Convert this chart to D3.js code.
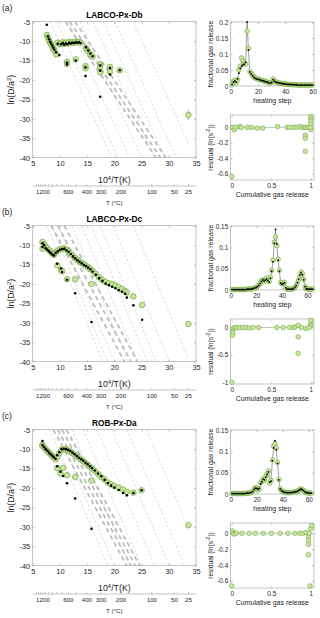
<!DOCTYPE html>
<html>
<head>
<meta charset="utf-8">
<script src="https://cdn.jsdelivr.net/npm/d3@7"></script>
<style>
  body { margin: 0; background: #fff; }
  svg { display: block; font-family: "Liberation Sans", Arial, sans-serif; }
</style>
</head>
<body>
<svg id="fig" width="320" height="618"></svg>
<script>
// ---------------------------------------------------------
// panel (a)  LABCO-Px-Db
var arrXa = [7.6, 7.8, 8.0, 8.2, 8.4, 8.6, 8.8, 9.0, 9.3, 9.6, 9.9, 10.2, 10.5, 10.8, 11.1, 11.4, 11.7, 12.0, 12.3, 12.6, 12.9, 13.2, 13.5, 13.8, 14.8, 15.2, 15.6, 16.0, 11.3, 11.3, 12.9, 14.7, 14.7, 17.4, 17.4, 17.4, 19.2, 19.2, 21.0, 33.6];
var arrMeasA = [-8.4, -9.1, -9.8, -10.4, -10.9, -11.4, -12.0, -12.4, -13.4, -10.4, -10.8, -10.6, -10.3, -10.7, -10.4, -10.6, -10.2, -10.5, -10.3, -10.4, -10.1, -10.3, -10.2, -10.4, -11.8, -12.6, -13.4, -14.0, -15.3, -15.9, -14.7, -16.4, -17.0, -15.9, -16.6, -18.0, -16.7, -17.9, -17.5, -29.0];
var arrModelA = [-5.8, -8.8, -9.5, -10.2, -10.7, -11.2, -11.7, -12.2, -12.9, -10.7, -13.6, -10.8, -10.5, -10.9, -10.6, -10.8, -10.4, -10.6, -10.4, -10.5, -10.3, -10.4, -10.3, -10.5, -11.6, -12.4, -13.2, -13.9, -16.0, -15.6, -15.0, -19.0, -16.8, -16.3, -24.3, -17.6, -16.9, -18.6, -17.5, null];
var arrErrA = [[9.2, -13.4, 0.8], [33.6, -29.0, 1.3]]; // x, y, half length
var thinA = [8.2, 9.4, 11.5, 13.7, 16.1, 18.0, 20.1, 23.5];
var thickA = [11.0, 11.8, 12.8];
var slopeA = [-3.1, -2.1]; // thin, thick
var stepMeasA = [0.003, 0.015, 0.018, 0.010, 0.020, 0.050, 0.062, 0.088, 0.078, 0.072, 0.068, 0.172, 0.117, 0.045, 0.040,
  0.034, 0.028, 0.025, 0.023, 0.022, 0.020, 0.019, 0.018, 0.016, 0.015, 0.013, 0.012, 0.010, 0.009, 0.012,
  0.022, 0.016, 0.013, 0.011, 0.010, 0.009, 0.008, 0.008, 0.007, 0.006, 0.006, 0.005, 0.005, 0.005, 0.004,
  0.004, 0.004, 0.004, 0.003, 0.003, 0.003, 0.003, 0.003, 0.003, 0.003, 0.003, 0.003, 0.003, 0.003, 0.003];
var stepModelA = [0.004, 0.012, 0.016, 0.012, 0.022, 0.040, 0.055, 0.062, 0.066, 0.068, 0.074, 0.200, 0.113, 0.044, 0.038,
  0.032, 0.027, 0.024, 0.022, 0.021, 0.020, 0.018, 0.017, 0.016, 0.014, 0.013, 0.012, 0.010, 0.009, 0.011,
  0.020, 0.015, 0.012, 0.011, 0.010, 0.009, 0.008, 0.007, 0.007, 0.006, 0.006, 0.005, 0.005, 0.005, 0.004,
  0.004, 0.004, 0.004, 0.003, 0.003, 0.003, 0.003, 0.003, 0.003, 0.003, 0.003, 0.003, 0.003, 0.003, 0.003];
var cumA = [0.00, 0.01, 0.03, 0.05, 0.10, 0.12, 0.20, 0.25, 0.32, 0.39, 0.58, 0.70, 0.73, 0.78, 0.82, 0.86, 0.89, 0.92, 0.94, 0.97, 0.93, 0.93, 0.93, 1.00, 1.00, 1.00, 1.00, 1.00, 0.99];
var residA = [-0.635, 0.00, -0.03, 0.00, 0.01, 0.00, 0.00, 0.00, -0.01, -0.01, 0.01, 0.00, 0.00, 0.00, 0.00, 0.01, 0.00, 0.00, 0.00, 0.00, -0.10, -0.14, -0.31, 0.14, 0.11, 0.08, 0.04, -0.03, 0.00];

// ---------------------------------------------------------
// panel (b)  LABCO-Px-Dc
var arrXb = [6.8, 6.8, 7.1, 7.4, 7.7, 8.0, 8.3, 8.6, 8.9, 9.2, 9.6, 10.0, 10.4, 10.8, 11.2, 11.6, 12.0, 12.4, 12.8, 13.2, 13.6, 14.0, 14.4, 14.8, 15.2, 15.6, 16.0, 16.6, 17.2, 17.8, 18.4, 19.0, 19.6, 20.2, 20.8, 21.4, 22.0, 22.3, 9.5, 10.2, 10.4, 11.3, 12.8, 15.8, 23.5, 25.1, 33.6];
var arrMeasB = [-9.2, -10.9, -9.8, -10.4, -10.9, -11.3, -11.7, -12.2, -12.5, -11.9, -11.4, -11.1, -10.9, -10.8, -11.2, -11.6, -12.2, -12.8, -13.3, -13.8, -14.2, -14.6, -15.0, -15.3, -15.7, -16.1, -16.6, -17.4, -18.3, -19.0, -19.5, -19.8, -20.1, -20.4, -20.8, -21.3, -21.8, -22.2, -15.2, -16.4, -16.8, -18.8, -18.8, -20.0, -23.2, -25.4, -30.3];
var arrModelB = [-9.5, -10.5, -10.0, -10.8, -11.2, -11.6, -12.0, -12.4, -12.7, -12.0, -11.6, -11.2, -11.0, -10.9, -11.3, -11.7, -12.3, -12.9, -13.4, -13.9, -14.3, -14.7, -15.1, -15.4, -15.8, -16.2, -16.8, -17.6, -18.5, -19.2, -19.9, -20.3, -20.7, -21.1, -21.6, -22.0, -22.5, -23.5, -14.8, -16.0, -16.9, -18.9, -22.4, -29.8, -25.5, -29.2, null];
var arrErrB = [];
var thinB = [7.6, 8.5, 9.7, 12.2, 14.0, 15.8, 17.4, 19.8, 23.5];
var thickB = [8.4, 9.6, 10.8];
var slopeB = [-3.4, -2.6];
var stepMeasB = [0.001, 0.001, 0.001, 0.001, 0.001, 0.001, 0.001, 0.001, 0.001, 0.001, 0.001, 0.001, 0.002, 0.002, 0.002, 0.002, 0.003, 0.004, 0.005, 0.006,
  0.008, 0.012, 0.015, 0.022, 0.024, 0.020, 0.024, 0.028, 0.022, 0.020,
  0.030, 0.046, 0.070, 0.112, 0.125, 0.104, 0.072, 0.046, 0.018, 0.014,
  0.016, 0.018, 0.005, 0.002, 0.002, 0.002, 0.002, 0.002, 0.003, 0.006,
  0.010, 0.016, 0.024, 0.034, 0.042, 0.038, 0.025, 0.008, 0.003, 0.002,
  0.002, 0.002, 0.002, 0.002];
var stepModelB = [0.001, 0.001, 0.001, 0.001, 0.001, 0.001, 0.001, 0.001, 0.001, 0.001, 0.001, 0.001, 0.002, 0.002, 0.002, 0.002, 0.003, 0.004, 0.005, 0.006,
  0.008, 0.011, 0.015, 0.020, 0.024, 0.021, 0.023, 0.026, 0.022, 0.019,
  0.028, 0.044, 0.066, 0.110, 0.142, 0.108, 0.070, 0.044, 0.016, 0.013,
  0.015, 0.017, 0.005, 0.002, 0.002, 0.002, 0.002, 0.002, 0.003, 0.006,
  0.010, 0.017, 0.025, 0.035, 0.040, 0.036, 0.024, 0.008, 0.003, 0.002,
  0.002, 0.002, 0.002, 0.002];
var cumB = [0.00, 0.01, 0.01, 0.02, 0.04, 0.06, 0.10, 0.14, 0.18, 0.22, 0.27, 0.34, 0.57, 0.65, 0.73, 0.78, 0.80, 0.84, 0.84, 0.84, 0.88, 0.94, 1.00, 1.00, 1.00, 0.98];
var residB = [-1.00, -0.14, -0.08, -0.02, 0.00, 0.00, 0.00, 0.00, 0.00, -0.01, 0.00, 0.00, 0.00, 0.00, 0.00, 0.00, 0.01, 0.04, -0.17, -0.47, 0.00, -0.02, 0.07, 0.13, 0.03, 0.00];

// ---------------------------------------------------------
// panel (c)  ROB-Px-Da
var arrXc = [6.8, 6.8, 7.1, 7.4, 7.7, 8.0, 8.3, 8.6, 8.9, 9.2, 9.5, 9.9, 10.3, 10.7, 11.1, 11.5, 11.9, 12.3, 12.7, 13.1, 13.5, 13.9, 14.3, 14.7, 15.1, 15.5, 15.9, 16.4, 17.0, 17.6, 18.2, 18.8, 19.4, 20.0, 20.8, 21.6, 22.3, 23.5, 25.0, 9.5, 10.6, 10.1, 11.3, 12.8, 15.8, 33.6];
var arrMeasC = [-8.9, -9.2, -9.6, -10.0, -10.5, -10.9, -11.3, -11.8, -12.2, -12.6, -12.0, -11.0, -10.2, -10.0, -10.1, -10.3, -10.6, -11.0, -11.4, -11.9, -12.3, -12.7, -13.1, -13.6, -14.0, -14.5, -15.0, -15.6, -16.4, -17.2, -17.8, -18.6, -19.1, -19.5, -19.9, -20.4, -21.0, -21.2, -20.6, -14.9, -14.8, -16.3, -16.7, -17.2, -18.1, -29.6];
var arrModelC = [-7.9, -9.0, -9.5, -10.0, -10.4, -10.9, -11.3, -11.7, -12.1, -12.5, -11.6, -10.8, -10.0, -9.9, -10.0, -10.2, -10.5, -10.9, -11.3, -11.8, -12.2, -12.6, -13.0, -13.5, -13.9, -14.4, -14.9, -15.5, -16.3, -17.0, -17.9, -18.7, -19.4, -19.9, -20.5, -21.3, -21.9, -21.3, -20.6, -14.4, -16.9, -15.8, -18.8, -22.7, -30.5, null];
var arrErrC = [];
var thinC = [8.2, 9.4, 12.2, 14.3, 16.8, 19.5, 22.3, 25.9];
var thickC = [8.8, 9.6, 10.4, 11.2];
var slopeC = [-3.3, -2.6];
var stepMeasC = [0.001, 0.001, 0.001, 0.001, 0.001, 0.001, 0.001, 0.001, 0.001, 0.001, 0.001, 0.002, 0.002, 0.002, 0.003, 0.004, 0.006,
  0.012, 0.015, 0.014, 0.010, 0.012, 0.026, 0.030, 0.036, 0.032, 0.042, 0.048, 0.054, 0.026,
  0.032, 0.080, 0.112, 0.118, 0.108, 0.074, 0.034, 0.012, 0.008, 0.006,
  0.004, 0.004, 0.003, 0.003, 0.003, 0.003, 0.004, 0.004, 0.005, 0.005,
  0.006, 0.008, 0.010, 0.012, 0.010, 0.008, 0.005, 0.003, 0.003, 0.002,
  0.002, 0.002];
var stepModelC = [0.001, 0.001, 0.001, 0.001, 0.001, 0.001, 0.001, 0.001, 0.001, 0.001, 0.001, 0.002, 0.002, 0.002, 0.003, 0.004, 0.006,
  0.011, 0.014, 0.013, 0.011, 0.013, 0.024, 0.029, 0.035, 0.033, 0.040, 0.046, 0.052, 0.028,
  0.030, 0.078, 0.108, 0.125, 0.104, 0.072, 0.033, 0.012, 0.008, 0.006,
  0.004, 0.004, 0.003, 0.003, 0.003, 0.003, 0.004, 0.004, 0.005, 0.005,
  0.006, 0.008, 0.010, 0.012, 0.010, 0.008, 0.005, 0.003, 0.003, 0.002,
  0.002, 0.002];
var cumC = [0.00, 0.01, 0.02, 0.03, 0.06, 0.13, 0.22, 0.30, 0.40, 0.50, 0.61, 0.71, 0.80, 0.86, 0.90, 0.94, 0.97, 0.97, 0.97, 0.97, 1.00, 1.01, 0.99, 0.98];
var residC = [-0.664, 0.03, 0.00, -0.01, 0.00, 0.00, 0.00, 0.00, 0.00, 0.00, 0.00, 0.00, 0.00, 0.00, 0.00, 0.01, -0.04, -0.09, -0.14, -0.27, 0.06, 0.10, -0.664, 0.00];

// ---------------------------------------------------------
// temperature axis (deg C) under each Arrhenius plot
var tempTicks = [1500, 1400, 1300, 1200, 1100, 1000, 900, 800, 700, 600, 500, 400, 300, 200, 100, 50, 25];
var tempLabels = [1200, 600, 400, 300, 200, 100, 50, 25];

var panels = [
  { key: "a", label: "(a)", title: "LABCO-Px-Db", ax: arrXa, meas: arrMeasA, model: arrModelA, err: arrErrA,
    thin: thinA, thick: thickA, slope: slopeA, step: stepMeasA, stepModel: stepModelA, stepMax: 61,
    fracMax: 0.2, fracTicks: [0, 0.05, 0.1, 0.15, 0.2], cum: cumA, resid: residA,
    residDomain: [-0.68, 0.16], residTicks: [-0.6, -0.4, -0.2, 0] },
  { key: "b", label: "(b)", title: "LABCO-Px-Dc", ax: arrXb, meas: arrMeasB, model: arrModelB, err: arrErrB,
    thin: thinB, thick: thickB, slope: slopeB, step: stepMeasB, stepModel: stepModelB, stepMax: 65,
    fracMax: 0.15, fracTicks: [0, 0.05, 0.1, 0.15], cum: cumB, resid: residB,
    residDomain: [-1.03, 0.155], residTicks: [-1, -0.5, 0] },
  { key: "c", label: "(c)", title: "ROB-Px-Da", ax: arrXc, meas: arrMeasC, model: arrModelC, err: arrErrC,
    thin: thinC, thick: thickC, slope: slopeC, step: stepMeasC, stepModel: stepModelC, stepMax: 64,
    fracMax: 0.15, fracTicks: [0, 0.05, 0.1, 0.15], cum: cumC, resid: residC,
    residDomain: [-0.69, 0.13], residTicks: [-0.6, -0.4, -0.2, 0] }
];

var svg = d3.select("#fig");
var greenFill = "#c9e4a3", greenLine = "#74ab3a", boxColor = "#a0a0a0", textColor = "#262626";
var panelStep = 204;

// style a d3 axis group the MATLAB way (no domain, grey ticks)
function styleAxis(g, size) {
  g.select(".domain").remove();
  g.selectAll(".tick line").attr("stroke", boxColor).attr("stroke-width", 0.6);
  g.selectAll(".tick text").attr("fill", textColor).style("font-size", size + "px");
}

function boxAxes(g, x, y, size, xTicks, yTicks) {
  var x0 = x.range()[0], x1 = x.range()[1], y0 = y.range()[0], y1 = y.range()[1];
  g.append("g").attr("transform", `translate(0,${y0})`)
    .call(d3.axisBottom(x).tickValues(xTicks).tickSize(-2).tickPadding(3).tickFormat(d => String(d)))
    .call(styleAxis, size);
  g.append("g").attr("transform", `translate(${x0},0)`)
    .call(d3.axisLeft(y).tickValues(yTicks).tickSize(-2).tickPadding(2.5).tickFormat(d => String(d)))
    .call(styleAxis, size);
  g.append("g").attr("transform", `translate(0,${y1})`)
    .call(d3.axisTop(x).tickValues(xTicks).tickSize(-2).tickFormat(""))
    .call(styleAxis, size);
  g.append("g").attr("transform", `translate(${x1},0)`)
    .call(d3.axisRight(y).tickValues(yTicks).tickSize(-2).tickFormat(""))
    .call(styleAxis, size);
  g.append("rect")
    .attr("x", x0).attr("y", y1)
    .attr("width", x1 - x0).attr("height", y0 - y1)
    .attr("fill", "none").attr("stroke", boxColor).attr("stroke-width", 0.6);
}

function drawPanel(p, i) {
  var oy = i * panelStep;
  var g = svg.append("g").attr("id", "panel-" + p.key);

  // -------------------------------------------------------------
  // Arrhenius plot
  var x = d3.scaleLinear().domain([5, 35]).range([32.7, 196]);
  var y = d3.scaleLinear().domain([-40, -5]).range([oy + 157.7, oy + 21.7]);

  svg.append("clipPath").attr("id", "clip-" + p.key)
    .append("rect")
    .attr("x", x(5)).attr("y", y(-5))
    .attr("width", x(35) - x(5)).attr("height", y(-40) - y(-5));

  var lines = p.thin.map(d => ({ x0: d, s: p.slope[0], thick: false }))
    .concat(p.thick.map(d => ({ x0: d, s: p.slope[1], thick: true })));
  lines.forEach(d => {
    d.x1 = Math.min(d.x0 + 35 / -d.s, 1e4 / 298.15);
    d.y1 = -5 + d.s * (d.x1 - d.x0);
  });
  g.append("g").attr("clip-path", `url(#clip-${p.key})`)
    .selectAll("line").data(lines).join("line")
    .attr("x1", d => x(d.x0)).attr("y1", y(-5))
    .attr("x2", d => x(d.x1)).attr("y2", d => y(d.y1))
    .attr("stroke", d => d.thick ? "#bcbcbc" : "#c4c4c4")
    .attr("stroke-width", d => d.thick ? 1.8 : 0.6)
    .attr("stroke-dasharray", d => d.thick ? "4.5,3.5" : "2.5,2");

  boxAxes(g, x, y, 7.4, d3.range(5, 36, 5), d3.range(-40, -4, 5));

  var pts = p.ax.map((d, k) => ({ x: d, m: p.meas[k], f: p.model[k] }));
  g.append("g").selectAll("line").data(p.err).join("line")
    .attr("x1", d => x(d[0])).attr("x2", d => x(d[0]))
    .attr("y1", d => y(d[1] - d[2])).attr("y2", d => y(d[1] + d[2]))
    .attr("stroke", greenLine).attr("stroke-width", 0.8);
  g.append("g").selectAll("circle").data(pts).join("circle")
    .attr("cx", d => x(d.x)).attr("cy", d => y(d.m)).attr("r", 2.8)
    .attr("fill", greenFill).attr("stroke", greenLine).attr("stroke-width", 0.7);
  g.append("g").selectAll("circle").data(pts.filter(d => d.f != null)).join("circle")
    .attr("cx", d => x(d.x)).attr("cy", d => y(d.f)).attr("r", 1.3)
    .attr("fill", "#000");

  // temperature axis
  var tAxis = g.append("g").attr("transform", `translate(0,${oy + 186})`)
    .call(d3.axisBottom(x)
      .tickValues(tempTicks.map(t => 1e4 / (t + 273.15)))
      .tickSize(-2).tickPadding(4)
      .tickFormat((d, k) => tempLabels.indexOf(tempTicks[k]) >= 0 ? tempTicks[k] : ""));
  tAxis.call(styleAxis, 6.2);
  tAxis.append("line").attr("x1", x(5)).attr("x2", x(35))
    .attr("stroke", boxColor).attr("stroke-width", 0.6);

  // texts
  g.append("text").attr("x", 2).attr("y", oy + 11).attr("fill", textColor)
    .style("font-size", "8.5px").text(p.label);
  g.append("text").attr("x", (x(5) + x(35)) / 2).attr("y", oy + 18)
    .attr("text-anchor", "middle").attr("fill", "#000")
    .style("font-size", "8.3px").style("font-weight", "bold").text(p.title);

  var yl = g.append("text")
    .attr("transform", `translate(14,${(y(-5) + y(-40)) / 2}) rotate(-90)`)
    .attr("text-anchor", "middle").attr("fill", textColor).style("font-size", "8.8px");
  yl.append("tspan").text("ln(D/a");
  yl.append("tspan").attr("dy", -3).style("font-size", "6px").text("2");
  yl.append("tspan").attr("dy", 3).text(")");

  var xl = g.append("text").attr("x", (x(5) + x(35)) / 2).attr("y", oy + 183)
    .attr("text-anchor", "middle").attr("fill", textColor).style("font-size", "8.8px");
  xl.append("tspan").text("10");
  xl.append("tspan").attr("dy", -3.5).style("font-size", "6px").text("4");
  xl.append("tspan").attr("dy", 3.5).text("/T(K)");

  g.append("text").attr("x", (x(5) + x(35)) / 2).attr("y", oy + 205)
    .attr("text-anchor", "middle").attr("fill", textColor).style("font-size", "6.2px").text("T (°C)");

  // -------------------------------------------------------------
  // fractional gas release vs heating step
  var xs = d3.scaleLinear().domain([0, p.stepMax]).range([230.7, 314]);
  var yf = d3.scaleLinear().domain([0, p.fracMax]).range([oy + 86, oy + 22]);
  boxAxes(g, xs, yf, 6.4, [0, 20, 40, 60], p.fracTicks);

  var stepPts = p.step.map((d, k) => ({ s: k + 1, m: d, f: p.stepModel[k] }));
  g.append("path").datum(stepPts)
    .attr("fill", "none").attr("stroke", "#444").attr("stroke-width", 0.5)
    .attr("d", d3.line().x(d => xs(d.s)).y(d => yf(d.f)));
  g.append("g").selectAll("circle").data(stepPts).join("circle")
    .attr("cx", d => xs(d.s)).attr("cy", d => yf(d.m)).attr("r", 2.3)
    .attr("fill", greenFill).attr("stroke", greenLine).attr("stroke-width", 0.6);
  g.append("g").selectAll("circle").data(stepPts).join("circle")
    .attr("cx", d => xs(d.s)).attr("cy", d => yf(d.f)).attr("r", 0.9)
    .attr("fill", "#000");

  g.append("text").attr("x", (xs.range()[0] + xs.range()[1]) / 2).attr("y", oy + 102.5)
    .attr("text-anchor", "middle").attr("fill", textColor).style("font-size", "7px").text("heating step");
  g.append("text")
    .attr("transform", `translate(212.5,${(yf.range()[0] + yf.range()[1]) / 2}) rotate(-90)`)
    .attr("text-anchor", "middle").attr("fill", textColor).style("font-size", "7px")
    .text("fractional gas release");

  // -------------------------------------------------------------
  // residual vs cumulative gas release
  var xc = d3.scaleLinear().domain([-0.013, 1.04]).range([230.7, 314]);
  var yr = d3.scaleLinear().domain(p.residDomain).range([oy + 180, oy + 115]);
  boxAxes(g, xc, yr, 6.4, [0, 0.5, 1], p.residTicks);

  g.append("line").attr("x1", xc(0)).attr("x2", xc(1)).attr("y1", yr(0)).attr("y2", yr(0))
    .attr("stroke", "#9a9a9a").attr("stroke-width", 0.6);
  var resPts = p.cum.map((d, k) => ({ c: d, r: p.resid[k] }));
  g.append("g").selectAll("circle").data(resPts).join("circle")
    .attr("cx", d => xc(d.c)).attr("cy", d => yr(d.r)).attr("r", 2.3)
    .attr("fill", greenFill).attr("stroke", greenLine).attr("stroke-width", 0.6);

  g.append("text").attr("x", (xc.range()[0] + xc.range()[1]) / 2).attr("y", oy + 197)
    .attr("text-anchor", "middle").attr("fill", textColor).style("font-size", "7px").text("Cumulative gas release");
  var rl = g.append("text")
    .attr("transform", `translate(212.5,${(yr.range()[0] + yr.range()[1]) / 2}) rotate(-90)`)
    .attr("text-anchor", "middle").attr("fill", textColor).style("font-size", "6.6px");
  rl.append("tspan").text("residual (ln(s");
  rl.append("tspan").attr("dy", -2.5).style("font-size", "5px").text("-2");
  rl.append("tspan").attr("dy", 2.5).text("))");
}

panels.forEach(drawPanel);
</script>
</body>
</html>
